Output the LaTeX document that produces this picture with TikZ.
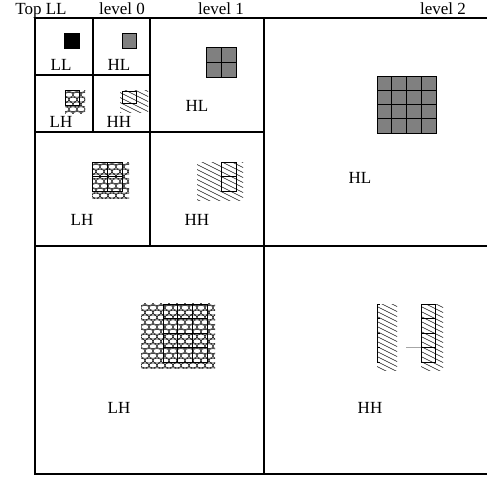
\documentclass[tikz,border=0pt]{standalone}
\usepackage{fontspec}
\setmainfont{Liberation Serif}
\usetikzlibrary{positioning}

% scale-like fill for the LH bands
\newcommand{\scalefill}[4]{%
  \begin{scope}
    \clip (#1,#2) rectangle (#3,#4);
    \foreach \r in {0,...,16} {
      \foreach \c in {0,...,11} {
        \draw[patline] ({#1+\c*8+mod(\r,2)*4},{#2+\r*4.8}) ellipse (4.2 and 2.5);
      }
    }
  \end{scope}}

% slanted hatching for the HH bands
\newcommand{\hatchfill}[4]{%
  \begin{scope}
    \clip (#1,#2) rectangle (#3,#4);
    \foreach \k in {-12,...,16} {
      \draw[patline] ({#1-5},{#2+\k*5}) -- ++(60,30);
    }
  \end{scope}}

\begin{document}
\begin{tikzpicture}[
  x=1pt, y=-1pt,
  frame/.style={draw=black, line width=1.1pt},
  patline/.style={draw=black!90, line width=0.6pt},
  band/.style={draw=black, line width=1pt},
  lbl/.style={inner sep=0pt, font=\fontsize{17}{20}\selectfont},
  head/.style={lbl, anchor=base},
]
  \useasboundingbox (0,0) rectangle (487,477);

  % header
  \node[head] (top) at (41,14) {Top LL};
  \node[head] (lev0) at (122,14) {level 0};
  \node[head] (lev1) at (221,14) {level 1};
  \node[head] (lev2) at (443,14) {level 2};

  % frame and splits
  \draw[frame] (35,18) rectangle (493,474);
  \draw[frame] (264,18) -- (264,474);
  \draw[frame] (35,246) -- (493,246);
  \draw[frame] (150,18) -- (150,246);
  \draw[frame] (35,132) -- (264,132);
  \draw[frame] (93,18) -- (93,132);
  \draw[frame] (35,75) -- (150,75);

  % level 0
  \draw[band, fill=black] (64,33) rectangle (79,48);
  \draw[band, fill=gray] (122,33) rectangle (136,48);
  \scalefill{65}{90}{85}{113}
  \draw[band] (65,90) rectangle (79,105);
  \hatchfill{120}{90}{148}{112}
  \draw[band] (122,91) rectangle (136,103);

  \node[lbl] (ll0) at (61,65) {LL};
  \node[lbl] (hl0) at (119,65) {HL};
  \node[lbl] (lh0) at (61,122) {LH};
  \node[lbl] (hh0) at (119,122) {HH};

  % level 1
  \foreach \i in {0,1} \foreach \j in {0,1}
    \draw[band, fill=gray] ({206+\i*15},{47+\j*15}) rectangle ++(15,15);
  \scalefill{92}{162}{129}{198}
  \foreach \i in {0,1} \foreach \j in {0,1}
    \draw[band] ({92+\i*15},{162+\j*14.5}) rectangle ++(15,14.5);
  \hatchfill{197}{162}{243}{200}
  \foreach \j in {0,1}
    \draw[band] (221,{162+\j*14.5}) rectangle ++(15,14.5);

  \node[lbl] (hl1) at (197,106) {HL};
  \node[lbl] (lh1) at (82,220) {LH};
  \node[lbl] (hh1) at (197,220) {HH};

  % level 2
  \foreach \i in {0,...,3} \foreach \j in {0,...,3}
    \draw[band, fill=gray] ({377+\i*14.75},{76+\j*14.25}) rectangle ++(14.75,14.25);
  \scalefill{141}{303}{215}{368}
  \foreach \i in {0,1,2} \foreach \j in {0,...,3}
    \draw[band] ({163+\i*14.67},{304+\j*14.5}) rectangle ++(14.67,14.5);
  \hatchfill{377}{304}{397}{370}
  \draw[band] (377,304) -- (377,362);
  \foreach \j in {0,...,4}
    \draw[band] (377,{304+\j*14.5}) -- ++(3,0);
  \hatchfill{421}{304}{443}{370}
  \foreach \j in {0,...,3}
    \draw[band] (421,{304+\j*14.5}) rectangle ++(14,14.5);
  \draw[gray!70, line width=0.6pt] (406,347.5) -- (421,347.5);

  \node[lbl] (hl2) at (360,178) {HL};
  \node[lbl] (lh2) at (119,408) {LH};
  \node[lbl] (hh2) at (370,408) {HH};
\end{tikzpicture}
\end{document}
